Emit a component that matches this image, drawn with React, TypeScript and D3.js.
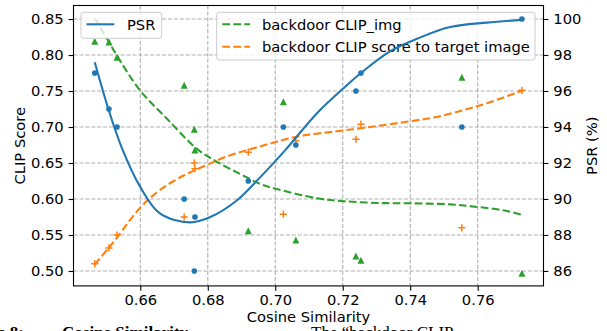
import React, { useRef, useEffect } from "react";
import * as d3 from "d3";

// scatter points: cosine similarity vs. metrics
const cosSim = [0.6465, 0.6507, 0.6531, 0.673, 0.676, 0.6762, 0.692, 0.7024, 0.7061, 0.7239, 0.7254, 0.7553, 0.7731];
const psr = [97, 95, 94, 90, 86, 89, 91, 94, 93, 96, 97, 94, 100];
const clipImg = [0.819, 0.818, 0.797, 0.758, 0.697, 0.668, 0.556, 0.735, 0.543, 0.521, 0.515, 0.769, 0.497];
const clipTarget = [0.51, 0.532, 0.55, 0.575, 0.65, 0.642, 0.665, 0.579, 0.681, 0.683, 0.704, 0.56, 0.751];

// trend curves
const psrFitX = [0.6465, 0.6507, 0.6544, 0.6599, 0.6658, 0.6747, 0.6806, 0.6885, 0.6955, 0.7029, 0.7123, 0.7202, 0.7254, 0.734, 0.742, 0.7518, 0.7627, 0.7731];
const psrFitY = [97.6, 94.9, 92.9, 90.7, 89.2, 88.7, 88.98, 89.9, 91.2, 92.7, 94.75, 96.15, 97.0, 98.2, 98.9, 99.55, 99.8, 99.95];
const clipImgFitX = [0.6465, 0.6507, 0.6531, 0.6599, 0.6678, 0.6767, 0.6826, 0.6895, 0.6955, 0.7004, 0.7123, 0.7202, 0.73, 0.74, 0.7518, 0.7598, 0.768, 0.7731];
const clipImgFitY = [0.851, 0.818, 0.799, 0.751, 0.712, 0.67, 0.652, 0.635, 0.621, 0.614, 0.601, 0.597, 0.5945, 0.594, 0.5925, 0.589, 0.584, 0.578];
const clipTargetFitX = [0.6465, 0.6508, 0.653, 0.6598, 0.6658, 0.673, 0.6796, 0.6856, 0.6955, 0.7063, 0.7181, 0.7281, 0.74, 0.7479, 0.7558, 0.7627, 0.7731];
const clipTargetFitY = [0.509, 0.533, 0.546, 0.587, 0.6125, 0.633, 0.647, 0.659, 0.673, 0.6865, 0.694, 0.7, 0.708, 0.714, 0.7236, 0.733, 0.7504];

const xTicks = [0.66, 0.68, 0.7, 0.72, 0.74, 0.76];
const clipTicks = [0.5, 0.55, 0.6, 0.65, 0.7, 0.75, 0.8, 0.85];
const psrTicks = [86, 88, 90, 92, 94, 96, 98, 100];

const BLUE = "#1f77b4";
const ORANGE = "#ff7f0e";
const GREEN = "#2ca02c";
const FONT = "DejaVu Sans";
const FS = 14.7;

const App = () => {
  const svgRef = useRef<SVGSVGElement>(null);

  useEffect(() => {
    const svg = d3.select(svgRef.current);
    svg.selectAll("*").remove();

    const left = 73.5, right = 543.5, top = 5.5, bottom = 285.9;

    const x = d3.scaleLinear().domain([0.6402, 0.7795]).range([left, right]);
    const yL = d3.scaleLinear().domain([0.4793, 0.8688]).range([bottom, top]);
    const yR = d3.scaleLinear().domain([85.17, 100.75]).range([bottom, top]);

    svg.append("rect").attr("width", 607).attr("height", 331).attr("fill", "white");

    // grid
    const grid = svg.append("g").attr("stroke", "#b0b0b0").attr("stroke-width", 1.1).attr("stroke-dasharray", "4.1,1.8");
    xTicks.forEach((t) => {
      grid.append("line").attr("x1", x(t)).attr("x2", x(t)).attr("y1", top).attr("y2", bottom);
    });
    clipTicks.forEach((t) => {
      grid.append("line").attr("x1", left).attr("x2", right).attr("y1", yL(t)).attr("y2", yL(t));
    });

    // axes
    const styleAxis = (g) => {
      g.select(".domain").remove();
      g.selectAll("line").attr("stroke", "black").attr("stroke-width", 1.1);
      g.selectAll("text").attr("font-family", FONT).attr("font-size", FS).attr("fill", "black");
    };
    svg.append("g")
      .attr("transform", `translate(0,${bottom})`)
      .call(d3.axisBottom(x).tickValues(xTicks).tickFormat(d3.format(".2f")).tickSize(4.9).tickPadding(4.2))
      .call(styleAxis);
    svg.append("g")
      .attr("transform", `translate(${left},0)`)
      .call(d3.axisLeft(yL).tickValues(clipTicks).tickFormat(d3.format(".2f")).tickSize(4.9).tickPadding(4.9))
      .call(styleAxis);
    svg.append("g")
      .attr("transform", `translate(${right},0)`)
      .call(d3.axisRight(yR).tickValues(psrTicks).tickFormat(d3.format("d")).tickSize(4.9).tickPadding(4.9))
      .call(styleAxis);

    const line = (xs, ys, yScale) =>
      d3.line<number>()
        .x((d, i) => x(xs[i]))
        .y((d) => yScale(d))
        .curve(d3.curveCatmullRom)(ys);

    // CLIP axis series
    svg.append("path").attr("d", line(clipImgFitX, clipImgFitY, yL)).attr("fill", "none")
      .attr("stroke", GREEN).attr("stroke-width", 2.08).attr("stroke-dasharray", "7.7,3.3");
    svg.append("path").attr("d", line(clipTargetFitX, clipTargetFitY, yL)).attr("fill", "none")
      .attr("stroke", ORANGE).attr("stroke-width", 2.08).attr("stroke-dasharray", "7.7,3.3");

    svg.append("g").selectAll("path").data(clipImg).enter().append("path")
      .attr("transform", (d, i) => `translate(${x(cosSim[i])},${yL(d)})`)
      .attr("d", "M0,-3.5L3.5,3.5L-3.5,3.5Z")
      .attr("fill", GREEN);
    svg.append("g").selectAll("path").data(clipTarget).enter().append("path")
      .attr("transform", (d, i) => `translate(${x(cosSim[i])},${yL(d)})`)
      .attr("d", "M-3.6,0H3.6M0,-3.6V3.6")
      .attr("stroke", ORANGE).attr("stroke-width", 1.5);

    // legend for the CLIP axis
    const leg2 = svg.append("g");
    leg2.append("rect").attr("x", 216.7).attr("y", 12.3).attr("width", 318.3).attr("height", 47.7).attr("rx", 2.8)
      .attr("fill", "white").attr("fill-opacity", 0.8).attr("stroke", "#cccccc").attr("stroke-width", 1);
    [["backdoor CLIP_img", GREEN], ["backdoor CLIP score to target image", ORANGE]].forEach(([label, c], i) => {
      const yy = 24.3 + i * 22.4;
      leg2.append("line").attr("x1", 222.3).attr("x2", 250.1).attr("y1", yy).attr("y2", yy)
        .attr("stroke", c).attr("stroke-width", 2.08).attr("stroke-dasharray", "7.7,3.3");
      leg2.append("text").attr("x", 262).attr("y", yy + 5.4).text(label)
        .attr("font-family", FONT).attr("font-size", FS).attr("fill", "black");
    });

    // PSR axis series
    svg.append("path").attr("d", line(psrFitX, psrFitY, yR)).attr("fill", "none")
      .attr("stroke", BLUE).attr("stroke-width", 2.08);
    svg.append("g").selectAll("circle").data(psr).enter().append("circle")
      .attr("cx", (d, i) => x(cosSim[i])).attr("cy", (d) => yR(d)).attr("r", 2.8)
      .attr("fill", BLUE);

    // legend for PSR
    const leg1 = svg.append("g");
    leg1.append("rect").attr("x", 81).attr("y", 12.3).attr("width", 80.7).attr("height", 26).attr("rx", 2.8)
      .attr("fill", "white").attr("fill-opacity", 0.8).attr("stroke", "#cccccc").attr("stroke-width", 1);
    leg1.append("line").attr("x1", 86.5).attr("x2", 114.3).attr("y1", 24.3).attr("y2", 24.3)
      .attr("stroke", BLUE).attr("stroke-width", 2.08);
    leg1.append("text").attr("x", 127).attr("y", 29.7).text("PSR")
      .attr("font-family", FONT).attr("font-size", FS).attr("fill", "black");

    // frame
    svg.append("rect").attr("x", left).attr("y", top).attr("width", right - left).attr("height", bottom - top)
      .attr("fill", "none").attr("stroke", "black").attr("stroke-width", 1.1);

    // axis labels
    svg.append("text").attr("transform", `translate(25,${(top + bottom) / 2}) rotate(-90)`)
      .attr("text-anchor", "middle").attr("font-family", FONT).attr("font-size", FS).text("CLIP Score");
    svg.append("text").attr("transform", `translate(596.5,${(top + bottom) / 2}) rotate(-90)`)
      .attr("text-anchor", "middle").attr("font-family", FONT).attr("font-size", FS).text("PSR (%)");
    svg.append("text").attr("x", (left + right) / 2).attr("y", 322)
      .attr("text-anchor", "middle").attr("font-family", FONT).attr("font-size", FS).text("Cosine Similarity");

    // caption of the paper, cut off by the crop
    const cap = svg.append("g").attr("font-family", "Liberation Serif").attr("font-size", 17).attr("fill", "black");
    cap.append("text").attr("x", 24).attr("y", 338).attr("text-anchor", "end").attr("font-weight", "bold").text("Figure 8:");
    cap.append("text").attr("x", 62).attr("y", 338).attr("font-weight", "bold").text("Cosine Similarity");
    cap.append("text").attr("x", 311).attr("y", 338).text("The \u201cbackdoor CLIP");
  }, []);

  return (
    <svg
      ref={svgRef}
      width={607}
      height={331}
      style={{ position: "absolute", left: 0, top: 0, display: "block" }}
    ></svg>
  );
};

export default App;
